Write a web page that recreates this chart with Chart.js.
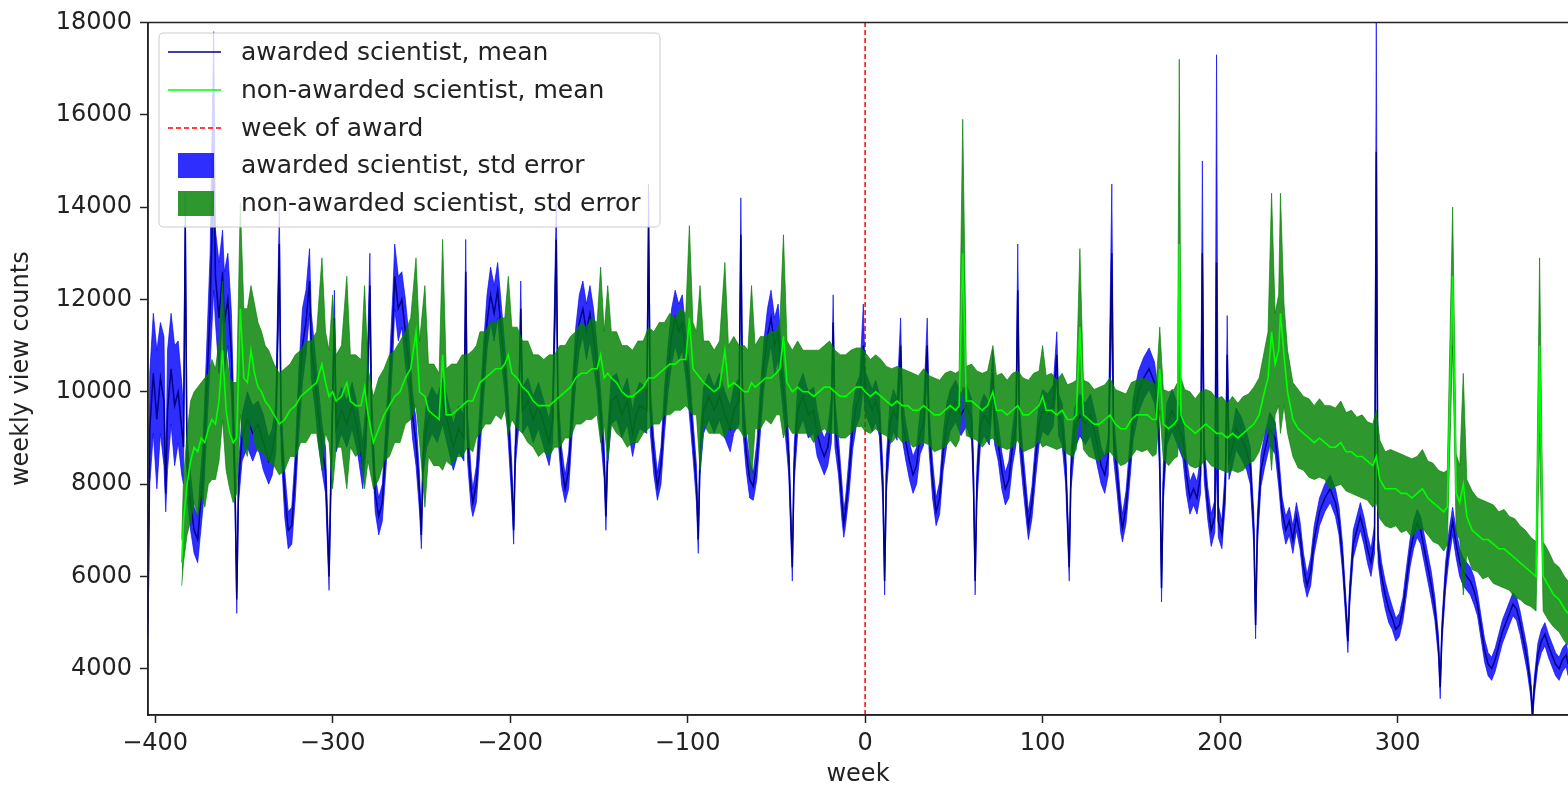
<!DOCTYPE html>
<html>
<head>
<meta charset="utf-8">
<script src="https://cdn.jsdelivr.net/npm/chart.js@4.4.1/dist/chart.umd.min.js"></script>
<style>
  html, body { margin: 0; padding: 0; background: #fff; }
  #wrap { width: 1568px; height: 791px; }
</style>
</head>
<body>
<div id="wrap"><canvas id="grafica"></canvas></div>
<script>
// filas [semana, media, error estándar]
const awarded = [
 [-404, 5000, 300], [-403, 9200, 1200], [-401, 10400, 1300], [-399, 9400, 1500], [-397, 10300, 1200],
 [-395, 9800, 1400], [-394, 7800, 400], [-393, 9600, 1300], [-391, 10500, 1200], [-389, 9700, 1300],
 [-387, 10000, 1100], [-385, 9200, 1000], [-384, 8800, 800], [-383, 13600, 700], [-382, 8400, 600],
 [-380, 7600, 600], [-378, 7000, 500], [-376, 6800, 500], [-375, 7300, 600], [-373, 8200, 700],
 [-371, 10000, 900], [-369, 11800, 1200], [-367, 15000, 2800], [-366, 12500, 1000], [-364, 11600, 1200],
 [-362, 12600, 900], [-361, 11500, 1100], [-359, 12000, 1000], [-357, 10800, 900], [-356, 9500, 700],
 [-355, 8000, 500], [-354, 5500, 300], [-353, 8000, 400], [-351, 9000, 500], [-348, 9400, 600],
 [-345, 9100, 600], [-342, 9300, 500], [-339, 8900, 600], [-336, 8500, 500], [-334, 8700, 500],
 [-332, 9200, 500], [-330, 13200, 800], [-329, 9200, 500], [-327, 7800, 500], [-325, 7000, 400],
 [-323, 7100, 400], [-321, 8200, 500], [-319, 9800, 700], [-317, 11000, 800], [-315, 11500, 700],
 [-313, 12400, 700], [-312, 11000, 700], [-310, 10300, 600], [-308, 9500, 600], [-306, 8800, 500],
 [-304, 8300, 500], [-302, 6000, 300], [-301, 8000, 400], [-299, 11600, 600], [-298, 9200, 500],
 [-295, 9600, 500], [-292, 9300, 500], [-289, 9700, 500], [-286, 9200, 500], [-283, 8400, 500],
 [-281, 9300, 500], [-279, 12300, 700], [-278, 9400, 500], [-276, 7800, 400], [-274, 7300, 400],
 [-272, 7600, 400], [-270, 8800, 500], [-268, 10000, 600], [-266, 11500, 700], [-265, 12500, 700],
 [-263, 11800, 700], [-261, 12000, 600], [-259, 11300, 700], [-257, 10600, 600], [-255, 9500, 500],
 [-253, 8900, 500], [-251, 7800, 400], [-250, 6900, 300], [-249, 8600, 400], [-247, 9300, 500],
 [-244, 9600, 500], [-241, 9400, 500], [-238, 9800, 500], [-235, 9300, 500], [-232, 8800, 500],
 [-229, 9200, 500], [-226, 9000, 500], [-225, 12600, 700], [-224, 9000, 500], [-222, 7900, 400],
 [-221, 7600, 300], [-219, 8000, 400], [-217, 9200, 500], [-215, 10400, 600], [-213, 11500, 600],
 [-211, 12100, 600], [-209, 11700, 600], [-207, 12200, 600], [-205, 11300, 600], [-203, 10500, 500],
 [-201, 9400, 500], [-199, 8000, 400], [-198, 7000, 300], [-197, 8800, 400], [-195, 9800, 500],
 [-194, 11800, 600], [-193, 9600, 500], [-190, 9800, 500], [-187, 9400, 500], [-184, 9700, 500],
 [-181, 9300, 500], [-178, 8900, 500], [-176, 9400, 500], [-174, 13300, 800], [-173, 9500, 500],
 [-171, 8400, 400], [-169, 7900, 300], [-167, 8300, 400], [-165, 9600, 500], [-163, 10800, 600],
 [-161, 11500, 600], [-159, 11800, 600], [-157, 11300, 600], [-155, 11700, 600], [-153, 11200, 600],
 [-151, 10500, 500], [-149, 9500, 500], [-147, 8500, 400], [-146, 7300, 300], [-145, 8800, 400],
 [-143, 9800, 500], [-140, 9900, 500], [-137, 9500, 500], [-134, 9800, 500], [-131, 9100, 500],
 [-129, 9500, 500], [-127, 9700, 500], [-123, 9600, 500], [-122, 13600, 900], [-121, 9600, 500],
 [-119, 8600, 400], [-117, 7950, 300], [-115, 8400, 400], [-113, 9600, 500], [-111, 10500, 500],
 [-109, 11200, 600], [-107, 11600, 600], [-105, 11300, 600], [-103, 11500, 600], [-101, 10800, 500],
 [-99, 10000, 500], [-97, 9000, 400], [-95, 8000, 400], [-94, 6800, 300], [-93, 8600, 400],
 [-91, 9600, 500], [-88, 9900, 500], [-85, 9600, 500], [-82, 9900, 500], [-79, 9500, 500],
 [-76, 9200, 500], [-74, 9600, 500], [-71, 9800, 500], [-70, 13400, 800], [-69, 9700, 500],
 [-67, 8700, 400], [-65, 8100, 400], [-63, 7950, 300], [-61, 8500, 400], [-59, 9600, 500],
 [-57, 10600, 500], [-55, 11200, 600], [-53, 11600, 600], [-51, 11000, 600], [-49, 11300, 600],
 [-47, 10400, 500], [-45, 9600, 500], [-43, 8600, 400], [-41, 6200, 300], [-40, 8400, 400],
 [-38, 9600, 500], [-35, 9900, 500], [-32, 9500, 500], [-29, 9600, 500], [-27, 9100, 500],
 [-25, 8800, 400], [-23, 8600, 400], [-21, 8800, 400], [-19, 9400, 500], [-18, 11500, 600],
 [-17, 9300, 500], [-15, 8600, 400], [-13, 7600, 400], [-12, 7150, 300], [-11, 7400, 300],
 [-9, 8200, 400], [-7, 9200, 450], [-5, 9700, 450], [-3, 9900, 450], [-1, 11000, 900],
 [0, 10000, 450], [2, 9800, 450], [4, 9600, 450], [6, 9800, 450], [8, 9500, 450],
 [10, 8000, 400], [11, 5900, 300], [12, 8200, 400], [14, 9300, 450], [16, 9600, 450],
 [18, 9400, 450], [20, 11000, 600], [21, 9400, 450], [23, 8900, 400], [25, 8500, 400],
 [27, 8200, 400], [29, 8400, 400], [31, 9100, 450], [33, 9300, 450], [35, 11000, 600],
 [36, 9200, 450], [38, 8100, 400], [40, 7400, 300], [42, 7700, 350], [44, 8700, 400],
 [46, 9300, 450], [48, 9600, 450], [51, 9800, 450], [54, 9500, 450], [57, 9700, 450],
 [60, 9400, 450], [61, 8200, 400], [62, 5900, 300], [63, 8000, 400], [65, 9300, 450],
 [67, 9500, 450], [70, 9300, 450], [72, 10400, 500], [73, 9300, 450], [75, 8900, 400],
 [77, 8300, 400], [79, 7900, 350], [81, 8100, 400], [83, 8800, 400], [85, 9300, 450],
 [86, 12200, 1000], [87, 9200, 450], [89, 8300, 400], [91, 7500, 350], [92, 7100, 300],
 [94, 7600, 350], [96, 8500, 400], [98, 9300, 450], [100, 9600, 450], [103, 9500, 450],
 [106, 9700, 450], [108, 10800, 500], [109, 9500, 450], [111, 9300, 450], [113, 8400, 400],
 [115, 6200, 300], [116, 8300, 400], [118, 9200, 450], [121, 9500, 450], [124, 9300, 450],
 [127, 9500, 450], [130, 9000, 450], [133, 8400, 400], [135, 8200, 400], [137, 8600, 400],
 [139, 13000, 1500], [140, 9000, 450], [142, 8200, 400], [144, 7300, 350], [145, 7050, 300],
 [147, 7500, 350], [149, 8400, 400], [151, 9400, 450], [154, 10000, 450], [157, 10300, 450],
 [160, 10500, 450], [163, 10200, 450], [165, 9600, 450], [166, 8500, 400], [167, 5750, 300],
 [168, 8000, 400], [170, 9300, 450], [173, 9600, 450], [176, 9300, 450], [179, 9000, 450],
 [181, 8200, 400], [183, 7700, 350], [185, 7900, 350], [187, 7700, 350], [189, 8200, 400],
 [190, 13000, 2000], [191, 8500, 400], [193, 7600, 350], [195, 7000, 350], [197, 7300, 350],
 [198, 12800, 4500], [199, 7200, 350], [201, 6900, 300], [203, 8000, 400], [204, 10800, 850],
 [205, 8500, 400], [207, 8800, 400], [209, 9200, 450], [212, 9000, 450], [215, 8700, 400],
 [217, 8400, 400], [219, 7000, 350], [220, 4950, 300], [221, 7000, 350], [223, 8300, 350],
 [225, 8700, 350], [228, 9200, 350], [231, 9000, 350], [233, 8300, 350], [235, 7400, 300],
 [237, 7000, 300], [239, 7200, 300], [241, 6800, 300], [243, 7300, 300], [245, 6900, 300],
 [247, 6200, 300], [249, 5800, 250], [251, 6100, 300], [253, 6800, 300], [256, 7400, 300],
 [259, 7700, 300], [262, 7900, 300], [265, 7600, 300], [267, 7200, 300], [269, 6400, 300],
 [271, 5200, 250], [272, 4600, 250], [273, 5600, 250], [275, 6700, 300], [277, 7000, 300],
 [279, 7300, 300], [281, 7000, 300], [283, 6600, 300], [285, 6300, 300], [287, 6800, 300],
 [288, 15200, 2900], [289, 6600, 300], [291, 6000, 300], [293, 5600, 300], [295, 5300, 300],
 [297, 5100, 250], [299, 4850, 250], [301, 4950, 250], [303, 5300, 250], [305, 5900, 300],
 [307, 6500, 300], [309, 6900, 300], [311, 7150, 300], [313, 7000, 300], [315, 6600, 300],
 [317, 6200, 300], [319, 5800, 300], [321, 5300, 250], [323, 4500, 250], [324, 3600, 250],
 [325, 4800, 250], [327, 6000, 300], [329, 6700, 300], [331, 7200, 300], [333, 6700, 300],
 [335, 6300, 300], [337, 6100, 300], [339, 6000, 300], [341, 5900, 300], [343, 5700, 300],
 [345, 5400, 250], [347, 4900, 250], [349, 4400, 250], [351, 4100, 250], [353, 4000, 250],
 [355, 4200, 250], [357, 4500, 250], [359, 4800, 250], [361, 5000, 250], [363, 5200, 250],
 [365, 5400, 250], [367, 5300, 250], [369, 5000, 250], [371, 4600, 250], [373, 4200, 250],
 [375, 3600, 200], [376, 3000, 200], [377, 3600, 200], [379, 4300, 250], [381, 4600, 250],
 [383, 4750, 250], [385, 4500, 250], [387, 4300, 250], [389, 4100, 250], [391, 4000, 250],
 [393, 4200, 250], [395, 4300, 250], [396, 4100, 250]
]

const nonAwarded = [
 [-385, 6300, 500], [-384, 7200, 900], [-382, 8000, 1100], [-380, 8500, 1300], [-378, 8800, 1200],
 [-376, 8700, 1400], [-374, 9000, 1200], [-372, 8900, 1400], [-370, 9200, 1200], [-368, 9400, 1300],
 [-366, 9300, 1200], [-364, 9800, 1300], [-362, 10900, 1500], [-360, 9600, 1300], [-358, 9100, 1200],
 [-356, 8900, 1300], [-354, 9000, 1200], [-352, 11800, 2300], [-350, 10300, 1500], [-348, 10200, 1600],
 [-346, 10900, 1400], [-344, 10400, 1500], [-342, 10100, 1400], [-340, 10000, 1300], [-338, 9800, 1200],
 [-336, 9700, 1200], [-333, 9500, 1100], [-330, 9300, 1100], [-327, 9400, 1100], [-324, 9600, 1000],
 [-321, 9700, 1100], [-318, 9900, 1000], [-315, 10000, 1100], [-312, 10100, 1000], [-309, 10200, 1100],
 [-306, 10600, 2300], [-304, 10200, 1100], [-302, 9900, 1000], [-300, 10000, 2100], [-298, 9800, 1000],
 [-295, 9900, 1100], [-292, 10200, 2300], [-290, 9800, 1000], [-287, 9700, 1100], [-284, 9700, 1000],
 [-282, 10100, 2200], [-280, 9500, 1000], [-277, 8900, 1000], [-274, 9200, 1100], [-271, 9500, 1000],
 [-268, 9700, 1100], [-265, 9900, 1000], [-262, 10000, 1100], [-259, 10300, 1000], [-256, 10500, 1100],
 [-253, 11300, 1600], [-251, 10000, 1100], [-248, 9900, 2400], [-246, 9600, 1000], [-243, 9500, 1100],
 [-240, 9400, 1000], [-238, 10800, 2500], [-236, 9500, 1000], [-233, 9500, 1100], [-230, 9600, 1000],
 [-227, 9700, 1100], [-224, 9800, 1000], [-221, 9800, 1100], [-219, 10000, 1000], [-217, 10200, 1100],
 [-214, 10300, 1000], [-211, 10400, 1100], [-208, 10500, 1000], [-205, 10500, 1100], [-203, 10600, 1000],
 [-201, 10800, 1700], [-199, 10400, 1000], [-196, 10300, 1100], [-193, 10100, 1000], [-190, 10000, 1100],
 [-187, 9800, 1000], [-184, 9700, 1100], [-181, 9700, 1000], [-178, 9700, 1100], [-175, 9800, 1000],
 [-172, 9900, 1100], [-169, 10000, 1000], [-166, 10100, 1100], [-163, 10300, 1000], [-160, 10400, 1100],
 [-157, 10400, 1000], [-154, 10500, 1100], [-151, 10500, 1000], [-149, 10800, 1900], [-147, 10300, 1000],
 [-145, 10400, 1900], [-143, 10300, 1000], [-140, 10200, 1100], [-137, 10000, 1000], [-134, 9900, 1100],
 [-131, 9900, 1000], [-128, 10000, 1100], [-125, 10100, 1000], [-122, 10300, 1100], [-119, 10300, 1000],
 [-116, 10400, 1100], [-113, 10500, 1000], [-110, 10600, 1100], [-107, 10600, 1000], [-104, 10700, 1100],
 [-101, 10700, 1000], [-99, 11600, 2000], [-97, 10500, 1000], [-95, 10400, 900], [-93, 10300, 2000],
 [-91, 10200, 900], [-88, 10100, 1000], [-85, 10000, 900], [-82, 10100, 1000], [-79, 10900, 1900],
 [-77, 10100, 900], [-74, 10200, 1000], [-71, 10100, 900], [-68, 10000, 1000], [-66, 10000, 900],
 [-64, 10200, 2100], [-62, 10100, 900], [-59, 10200, 1000], [-56, 10300, 900], [-53, 10300, 1000],
 [-50, 10400, 900], [-48, 10500, 1000], [-46, 11200, 2200], [-44, 10200, 900], [-41, 10000, 900],
 [-38, 10100, 1000], [-35, 10000, 900], [-32, 10000, 900], [-29, 9900, 1000], [-26, 10000, 900],
 [-23, 10100, 900], [-20, 10100, 1000], [-17, 10000, 900], [-14, 9900, 900], [-11, 9900, 900],
 [-8, 10000, 900], [-5, 10100, 850], [-2, 10100, 850], [0, 10000, 850], [3, 9900, 800],
 [6, 10000, 800], [9, 9900, 800], [12, 9800, 750], [15, 9700, 800], [18, 9800, 750],
 [21, 9700, 800], [24, 9700, 750], [27, 9600, 800], [30, 9600, 750], [33, 9700, 800],
 [36, 9600, 750], [39, 9500, 800], [42, 9500, 750], [45, 9600, 800], [48, 9700, 750],
 [51, 9600, 800], [53, 9700, 750], [55, 13000, 2900], [57, 9800, 750], [60, 9800, 800],
 [63, 9700, 750], [66, 9600, 800], [69, 9700, 750], [72, 10000, 1000], [74, 9600, 750],
 [77, 9600, 800], [80, 9500, 750], [83, 9600, 800], [86, 9700, 750], [89, 9500, 800],
 [92, 9500, 750], [95, 9600, 800], [98, 9700, 750], [100, 9900, 1100], [102, 9600, 750],
 [105, 9600, 800], [108, 9500, 750], [111, 9600, 800], [114, 9400, 750], [117, 9400, 800],
 [119, 9500, 750], [121, 11400, 1700], [123, 9500, 750], [126, 9400, 800], [129, 9300, 750],
 [132, 9300, 800], [135, 9400, 750], [138, 9500, 800], [141, 9300, 750], [144, 9200, 800],
 [147, 9200, 750], [150, 9400, 800], [153, 9500, 750], [156, 9500, 800], [159, 9500, 750],
 [162, 9400, 800], [164, 9400, 750], [166, 10500, 900], [168, 9300, 750], [171, 9200, 800],
 [174, 9300, 750], [176, 9400, 800], [177, 13200, 4000], [178, 9500, 800], [180, 9300, 750],
 [183, 9200, 800], [186, 9100, 750], [189, 9200, 800], [192, 9300, 750], [195, 9200, 800],
 [198, 9100, 750], [201, 9100, 800], [204, 9000, 750], [207, 9100, 800], [210, 9000, 750],
 [213, 9100, 800], [216, 9200, 750], [219, 9300, 800], [222, 9500, 800], [225, 10000, 900],
 [227, 10300, 1000], [229, 11300, 3000], [231, 10600, 1100], [233, 10900, 1200], [234, 11700, 2600],
 [236, 10800, 1100], [238, 10000, 900], [241, 9400, 800], [244, 9200, 850], [247, 9100, 800],
 [250, 9000, 850], [253, 8900, 800], [256, 9000, 850], [259, 8900, 800], [262, 8800, 900],
 [265, 8800, 850], [268, 8900, 900], [271, 8700, 850], [274, 8700, 900], [277, 8600, 850],
 [280, 8600, 900], [283, 8500, 850], [286, 8400, 900], [288, 8600, 1000], [290, 8100, 850],
 [293, 7900, 800], [296, 7900, 850], [299, 7900, 800], [302, 7800, 850], [305, 7800, 800],
 [308, 7700, 850], [311, 7800, 800], [314, 7900, 850], [317, 7700, 800], [320, 7600, 850],
 [323, 7500, 800], [326, 7400, 850], [328, 7500, 800], [331, 12500, 1500], [333, 7800, 850],
 [335, 7600, 800], [337, 8000, 2400], [339, 7300, 800], [342, 7000, 850], [345, 6900, 800],
 [348, 6800, 850], [351, 6800, 800], [354, 6700, 850], [357, 6600, 800], [360, 6600, 850],
 [363, 6500, 800], [366, 6400, 850], [369, 6300, 800], [372, 6200, 800], [375, 6100, 750],
 [378, 6000, 750], [380, 11000, 1900], [382, 6000, 750], [385, 5800, 750], [388, 5600, 700],
 [391, 5500, 700], [394, 5300, 700], [396, 5200, 700]
]

const awardWeek = 0
const xTicks = [-400, -300, -200, -100, 0, 100, 200, 300]
const yTicks = [4000, 6000, 8000, 10000, 12000, 14000, 16000, 18000]
const seriesLabels = [
  'awarded scientist, mean',
  'non-awarded scientist, mean',
  'week of award',
  'awarded scientist, std error',
  'non-awarded scientist, std error'
]

const NAVY = '#00008b'
const LIME = '#00ff00'
const BLUE_BAND = 'rgba(0, 0, 255, 0.82)'
const GREEN_BAND = 'rgba(0, 128, 0, 0.82)'
const TXT = '#222222'
const FONT = 'DejaVu Sans'

//pasamos las filas a puntos {x, y}
const meanPts = rows => rows.map(r => ({ x: r[0], y: r[1] }))
const upPts = rows => rows.map(r => ({ x: r[0], y: r[1] + r[2] }))
const lowPts = rows => rows.map(r => ({ x: r[0], y: r[1] - r[2] }))

//marco superior y leyenda dibujados encima de los datos
const marcoLeyenda = {
  id: 'marcoLeyenda',
  afterDraw(chart) {
    const ctx = chart.ctx
    const a = chart.chartArea
    ctx.save()
    ctx.strokeStyle = TXT
    ctx.lineWidth = 1.5
    ctx.beginPath()
    ctx.moveTo(a.left, a.bottom)
    ctx.lineTo(a.left, a.top)
    ctx.lineTo(a.right, a.top)
    ctx.moveTo(a.left, a.bottom)
    ctx.lineTo(a.right, a.bottom)
    ctx.stroke()

    // caja de la leyenda
    const bx = 159, by = 33, bw = 501, bh = 194, r = 5
    ctx.beginPath()
    ctx.moveTo(bx + r, by)
    ctx.lineTo(bx + bw - r, by)
    ctx.quadraticCurveTo(bx + bw, by, bx + bw, by + r)
    ctx.lineTo(bx + bw, by + bh - r)
    ctx.quadraticCurveTo(bx + bw, by + bh, bx + bw - r, by + bh)
    ctx.lineTo(bx + r, by + bh)
    ctx.quadraticCurveTo(bx, by + bh, bx, by + bh - r)
    ctx.lineTo(bx, by + r)
    ctx.quadraticCurveTo(bx, by, bx + r, by)
    ctx.closePath()
    ctx.fillStyle = 'rgba(255,255,255,0.8)'
    ctx.fill()
    ctx.strokeStyle = '#cccccc'
    ctx.lineWidth = 1
    ctx.stroke()

    const rows = [52, 90, 128, 165, 203]
    ctx.lineWidth = 1.5
    ctx.strokeStyle = NAVY
    ctx.beginPath(); ctx.moveTo(168, rows[0]); ctx.lineTo(221, rows[0]); ctx.stroke()
    ctx.strokeStyle = LIME
    ctx.beginPath(); ctx.moveTo(168, rows[1]); ctx.lineTo(221, rows[1]); ctx.stroke()
    ctx.strokeStyle = 'red'
    ctx.setLineDash([5, 3])
    ctx.beginPath(); ctx.moveTo(168, rows[2]); ctx.lineTo(221, rows[2]); ctx.stroke()
    ctx.setLineDash([])
    ctx.fillStyle = BLUE_BAND
    ctx.fillRect(178, rows[3] - 12, 36, 25)
    ctx.fillStyle = GREEN_BAND
    ctx.fillRect(178, rows[4] - 12, 36, 25)

    ctx.fillStyle = TXT
    ctx.font = '25px "' + FONT + '"'
    ctx.textBaseline = 'middle'
    ctx.textAlign = 'left'
    seriesLabels.forEach((t, i) => ctx.fillText(t, 241, rows[i] + 1))
    ctx.restore()
  }
}

const tickFont = { family: FONT, size: 24 }

const canva = document.querySelector('#grafica')
const myChart = new Chart(canva, {
  type: 'line',
  data: {
    datasets: [
      { label: 'awarded upper', data: upPts(awarded), borderColor: BLUE_BAND, borderWidth: 0.8,
        backgroundColor: BLUE_BAND, fill: '+1', pointRadius: 0, order: 5 },
      { label: 'awarded lower', data: lowPts(awarded), borderColor: BLUE_BAND, borderWidth: 0.8,
        fill: false, pointRadius: 0, order: 5 },
      { label: seriesLabels[0], data: meanPts(awarded), borderColor: NAVY, borderWidth: 1.5,
        fill: false, pointRadius: 0, order: 4 },
      { label: 'non-awarded upper', data: upPts(nonAwarded), borderColor: GREEN_BAND, borderWidth: 0.8,
        backgroundColor: GREEN_BAND, fill: '+1', pointRadius: 0, order: 3 },
      { label: 'non-awarded lower', data: lowPts(nonAwarded), borderColor: GREEN_BAND, borderWidth: 0.8,
        fill: false, pointRadius: 0, order: 3 },
      { label: seriesLabels[1], data: meanPts(nonAwarded), borderColor: LIME, borderWidth: 1.6,
        fill: false, pointRadius: 0, order: 2 },
      { label: seriesLabels[2], data: [{ x: awardWeek, y: 3000 }, { x: awardWeek, y: 18000 }],
        borderColor: 'red', borderWidth: 1.5, borderDash: [5, 3], fill: false, pointRadius: 0, order: 6 }
    ]
  },
  options: {
    responsive: true,
    maintainAspectRatio: false,
    animation: false,
    events: [],
    layout: { padding: { top: 20, right: 0, bottom: 0, left: 0 } },
    elements: { line: { tension: 0 } },
    plugins: { legend: { display: false }, tooltip: { enabled: false } },
    scales: {
      x: {
        type: 'linear',
        min: -404,
        max: 396,
        afterBuildTicks: s => { s.ticks = xTicks.map(v => ({ value: v })) },
        afterFit: s => { s.height = 76 },
        ticks: {
          font: tickFont, color: TXT, padding: 6, maxRotation: 0, autoSkip: false,
          callback: v => String(v).replace('-', '\u2212')
        },
        grid: { display: true, drawOnChartArea: false, drawTicks: true, tickLength: 8, tickWidth: 1.5, tickColor: TXT },
        border: { display: true, color: TXT, width: 1.5 },
        title: { display: true, text: 'week', font: tickFont, color: TXT, padding: { top: 0, bottom: 2 } }
      },
      y: {
        type: 'linear',
        min: 3000,
        max: 18000,
        afterBuildTicks: s => { s.ticks = yTicks.map(v => ({ value: v })) },
        afterFit: s => { s.width = 148 },
        ticks: { font: tickFont, color: TXT, padding: 8, callback: v => String(v) },
        grid: { display: true, drawOnChartArea: false, drawTicks: true, tickLength: 8, tickWidth: 1.5, tickColor: TXT },
        border: { display: true, color: TXT, width: 1.5 },
        title: { display: true, text: 'weekly view counts', font: tickFont, color: TXT, padding: { top: 7, bottom: 0 } }
      }
    }
  },
  plugins: [marcoLeyenda]
})
</script>
</body>
</html>
